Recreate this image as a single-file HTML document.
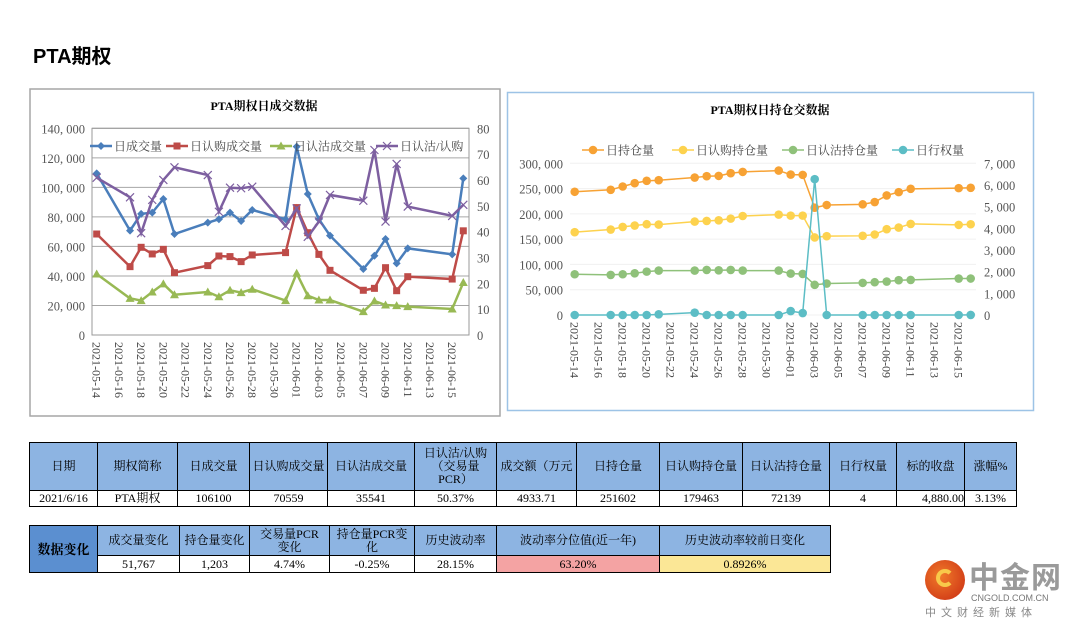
<!DOCTYPE html>
<html><head><meta charset="utf-8">
<style>
body{margin:0;background:#fff;width:1080px;height:629px;overflow:hidden;position:relative;font-family:"Liberation Serif","Noto Serif CJK SC",serif;}
#title{position:absolute;left:33px;top:40px;font:bold 20px "Liberation Sans","Noto Sans CJK SC",sans-serif;color:#000;}
.box{position:absolute;}
table{border-collapse:collapse;position:absolute;table-layout:fixed;font-family:"Liberation Serif","Noto Serif CJK SC",serif;font-size:12px;color:#000;}
td{border:1px solid #000;text-align:center;padding:0;overflow:hidden;white-space:nowrap;line-height:13px;}
.h{background:#8db4e2;}
.dk{background:#5b8fd0;font-weight:bold;font-size:13px;}
.pk{background:#f4a3a3;}
.yl{background:#fbe796;}
</style></head><body>
<div id="title">PTA期权</div>

<svg class="box" style="left:0;top:0" width="1080" height="629" id="svg">
  <rect x="30" y="89" width="470" height="327" fill="#fff" stroke="#a6a6a6" stroke-width="1.5"/>
  <rect x="507.5" y="92.5" width="526" height="318" fill="#fff" stroke="#9dc3e6" stroke-width="1.5"/>
  <text x="264" y="110" text-anchor="middle" font-size="12" font-weight="bold">PTA期权日成交数据</text>
  <text x="770" y="114" text-anchor="middle" font-size="12" font-weight="bold">PTA期权日持仓交数据</text>
  <g id="L"></g><g id="R"></g>
</svg>

<table style="left:29px;top:442px;width:988px">
<colgroup><col style="width:68px"><col style="width:80px"><col style="width:72px"><col style="width:78px"><col style="width:87px"><col style="width:82px"><col style="width:80px"><col style="width:83px"><col style="width:83px"><col style="width:87px"><col style="width:67px"><col style="width:68px"><col style="width:52px"></colgroup>
<tr style="height:48px">
<td class="h">日期</td><td class="h">期权简称</td><td class="h">日成交量</td><td class="h">日认购成交量</td><td class="h">日认沽成交量</td><td class="h" style="white-space:normal">日认沽/认购<br>（交易量<br>PCR）</td><td class="h">成交额（万元</td><td class="h">日持仓量</td><td class="h">日认购持仓量</td><td class="h">日认沽持仓量</td><td class="h">日行权量</td><td class="h">标的收盘</td><td class="h">涨幅%</td></tr>
<tr style="height:16px">
<td>2021/6/16</td><td>PTA期权</td><td>106100</td><td>70559</td><td>35541</td><td>50.37%</td><td>4933.71</td><td>251602</td><td>179463</td><td>72139</td><td>4</td><td style="text-align:right">4,880.00</td><td>3.13%</td></tr>
</table>

<table style="left:29px;top:525px;width:801px">
<colgroup><col style="width:68px"><col style="width:82px"><col style="width:70px"><col style="width:80px"><col style="width:85px"><col style="width:82px"><col style="width:163px"><col style="width:171px"></colgroup>
<tr style="height:30px">
<td class="dk" rowspan="2">数据变化</td><td class="h">成交量变化</td><td class="h">持仓量变化</td><td class="h">交易量PCR<br>变化</td><td class="h">持仓量PCR变<br>化</td><td class="h">历史波动率</td><td class="h">波动率分位值(近一年)</td><td class="h">历史波动率较前日变化</td></tr>
<tr style="height:17px">
<td>51,767</td><td>1,203</td><td>4.74%</td><td>-0.25%</td><td>28.15%</td><td class="pk">63.20%</td><td class="yl">0.8926%</td></tr>
</table>

<div style="position:absolute;left:925px;top:556px;width:150px;height:65px;">
  <div style="position:absolute;left:0;top:4px;width:40px;height:40px;border-radius:50%;background:radial-gradient(circle at 40% 40%,#f07a2a,#c92b12);"></div>
  <div style="position:absolute;left:11px;top:13px;width:18px;height:18px;border-radius:50%;border:4px solid #f8c94a;border-right-color:transparent;box-sizing:border-box;"></div>
  <div style="position:absolute;left:44px;top:2px;font:bold 30px 'Noto Sans CJK SC',sans-serif;color:#9a9a9a;line-height:34px;letter-spacing:1px">中金网</div>
  <div style="position:absolute;left:46px;top:37px;font:9px 'Liberation Sans',sans-serif;color:#777;">CNGOLD.COM.CN</div>
  <div style="position:absolute;left:0;top:48px;font:11px 'Noto Sans CJK SC',sans-serif;color:#888;letter-spacing:5px;">中文财经新媒体</div>
</div>

<script>
const dates=["2021-05-14","2021-05-17","2021-05-18","2021-05-19","2021-05-20","2021-05-21","2021-05-24","2021-05-25","2021-05-26","2021-05-27","2021-05-28","2021-05-31","2021-06-01","2021-06-02","2021-06-03","2021-06-04","2021-06-07","2021-06-08","2021-06-09","2021-06-10","2021-06-11","2021-06-15","2021-06-16"];
const tickDates=["2021-05-14","2021-05-16","2021-05-18","2021-05-20","2021-05-22","2021-05-24","2021-05-26","2021-05-28","2021-05-30","2021-06-01","2021-06-03","2021-06-05","2021-06-07","2021-06-09","2021-06-11","2021-06-13","2021-06-15"];
// left chart
const volTotal=[109500,70700,82000,82900,92100,68400,76100,78400,82900,77200,84700,78400,127600,95500,78400,67300,44700,53700,65000,48500,58700,54600,106100];
const volCall=[68400,46300,59400,54900,58000,42200,47000,53500,53100,49700,54200,55800,86300,69300,54600,43800,30300,31600,45600,30000,39500,37900,70559];
const volPut=[41300,24800,23300,29100,34600,27300,29100,25900,30300,28700,31000,23300,41800,26600,23700,23700,15800,23000,20300,19900,19200,17600,35541];
const pcrVol=[60.9,53.3,39.4,52.3,60.0,64.9,61.9,47.7,57.0,56.8,57.4,42.2,49.0,38.0,43.9,54.2,52.0,71.6,43.9,66.2,49.7,46.1,50.37];
const leftTicks=[0,20000,40000,60000,80000,100000,120000,140000];
const leftTicks2=[0,10,20,30,40,50,60,70,80];
// right chart
const oiTotal=[243700,247600,254100,260700,265300,266600,271800,274500,275100,280400,283000,285600,277700,277100,212200,217500,218800,223400,236500,243000,249500,250900,251602];
const oiCall=[163800,169000,174200,176900,179500,178800,184700,186000,187300,190600,195800,198500,196500,196500,153300,155900,156600,159200,169700,172900,180100,178200,179463];
const oiPut=[80600,79300,80600,82500,85800,87800,87800,89100,88400,89100,87800,87800,81900,81200,59600,62200,63500,64800,66200,68800,69400,72100,72139];
const exercise=[0,0,0,0,0,30,107,0,0,0,0,0,180,90,6270,0,0,0,0,0,0,0,4];
const rightTicks=[0,50000,100000,150000,200000,250000,300000];
const rightTicks2=[0,1000,2000,3000,4000,5000,6000,7000];

const NS="http://www.w3.org/2000/svg";
function mk(parent,tag,attrs,txt){const e=document.createElementNS(NS,tag);for(const k in attrs)e.setAttribute(k,attrs[k]);if(txt!==undefined)e.textContent=txt;parent.appendChild(e);return e;}
const day=s=>Date.parse(s)/86400000;
const fmt=v=>v===0?"0":v.toLocaleString("en-US").replace(/,/g,", ");

function chart(g,cfg){
  const d0=day(dates[0]),d1=day(dates[dates.length-1]);
  const X=s=>cfg.x0+(day(s)-d0)/(d1-d0)*(cfg.x1-cfg.x0);
  const Y=v=>cfg.yb-(v/cfg.max)*(cfg.yb-cfg.yt);
  const Y2=v=>cfg.yb-(v/cfg.max2)*(cfg.yb-cfg.yt);
  cfg.ticks.forEach(t=>{
    const l=mk(g,'line',{x1:cfg.px0,x2:cfg.px1,y1:Y(t),y2:Y(t),stroke:cfg.grid,'stroke-width':1});
    
    
    const tx=mk(g,'text',{x:cfg.px0-7,y:Y(t)+5,'text-anchor':'end','font-size':12.5,fill:'#555'},fmt(t));
    
    
  });
  cfg.ticks2.forEach(t=>{
    const tx=mk(g,'text',{x:cfg.px1+8,y:Y2(t)+5,'font-size':12.5,fill:'#555'},fmt(t));
    
    
  });
  if(cfg.frame){const r=mk(g,'rect',{x:cfg.px0,y:cfg.yt,width:cfg.px1-cfg.px0,height:cfg.yb-cfg.yt,fill:'none',stroke:'#999'});
    
    }
  tickDates.forEach(s=>{
    const x=X(s);
    const tx=mk(g,'text',{transform:`translate(${x-4},${cfg.yb+7}) rotate(90)`,'font-size':12,fill:'#444'},s);
    
    
  });
  cfg.series.forEach(sr=>{
    const yf=sr.axis2?Y2:Y;
    const pts=sr.data.map((v,i)=>[X(dates[i]),yf(v)]);
    const pl=mk(g,'polyline',{points:pts.map(p=>p.join(',')).join(' '),fill:'none',stroke:sr.color,'stroke-width':sr.w});
    
    
    pts.forEach(p=>{
      const m=marker(g,sr.marker,p[0],p[1],sr.color);
      
      
    });
  });
  cfg.series.forEach((sr,i)=>{
    const lx=cfg.legX[i],ly=cfg.legY;
    const l=mk(g,'line',{x1:lx,x2:lx+22,y1:ly,y2:ly,stroke:sr.color,'stroke-width':sr.w});
    
    
    const m=marker(g,sr.marker,lx+11,ly,sr.color);
    
    
    const t=mk(g,'text',{x:lx+24,y:ly+4.5,'font-size':12,fill:'#444'},sr.label);
    
    
  });
}
function marker(g,type,x,y,c){
  if(type==='diamond')return mk(g,'path',{d:`M${x} ${y-4}L${x+4} ${y}L${x} ${y+4}L${x-4} ${y}Z`,fill:c});
  if(type==='square')return mk(g,'rect',{x:x-3.5,y:y-3.5,width:7,height:7,fill:c});
  if(type==='tri')return mk(g,'path',{d:`M${x} ${y-4.5}L${x+4.5} ${y+3.5}L${x-4.5} ${y+3.5}Z`,fill:c});
  if(type==='x')return mk(g,'path',{d:`M${x-4} ${y-4}L${x+4} ${y+4}M${x+4} ${y-4}L${x-4} ${y+4}`,stroke:c,'stroke-width':1.2});
  return mk(g,'circle',{cx:x,cy:y,r:4.3,fill:c});
}
chart(document.getElementById('L'),{x0:96.7,x1:463.3,px0:92,px1:469,yt:128.3,yb:335,max:140000,max2:80,ticks:leftTicks,ticks2:leftTicks2,grid:'#a6a6a6',frame:true,legY:146,legX:[90,166,270,376],
  series:[{name:'volume-total',label:'日成交量',data:volTotal,color:'#4a7ebb',marker:'diamond',w:2.5},
          {name:'volume-call',label:'日认购成交量',data:volCall,color:'#be4b48',marker:'square',w:2.5},
          {name:'volume-put',label:'日认沽成交量',data:volPut,color:'#98b954',marker:'tri',w:2.5},
          {name:'pcr-volume',label:'日认沽/认购',data:pcrVol,color:'#7d5fa0',marker:'x',w:2.5,axis2:true}]});
chart(document.getElementById('R'),{x0:574.7,x1:970.7,px0:570,px1:976,yt:163.3,yb:315,max:300000,max2:7000,ticks:rightTicks,ticks2:rightTicks2,grid:'#f0f0f0',frame:false,legY:150,legX:[582,672,782,892],
  series:[{name:'oi-total',label:'日持仓量',data:oiTotal,color:'#f7a234',marker:'circle',w:1.5},
          {name:'oi-call',label:'日认购持仓量',data:oiCall,color:'#fdd24e',marker:'circle',w:1.5},
          {name:'oi-put',label:'日认沽持仓量',data:oiPut,color:'#8fc17a',marker:'circle',w:1.5},
          {name:'exercise',label:'日行权量',data:exercise,color:'#5cbdc5',marker:'circle',w:1.5,axis2:true}]});
</script>
</body></html>
